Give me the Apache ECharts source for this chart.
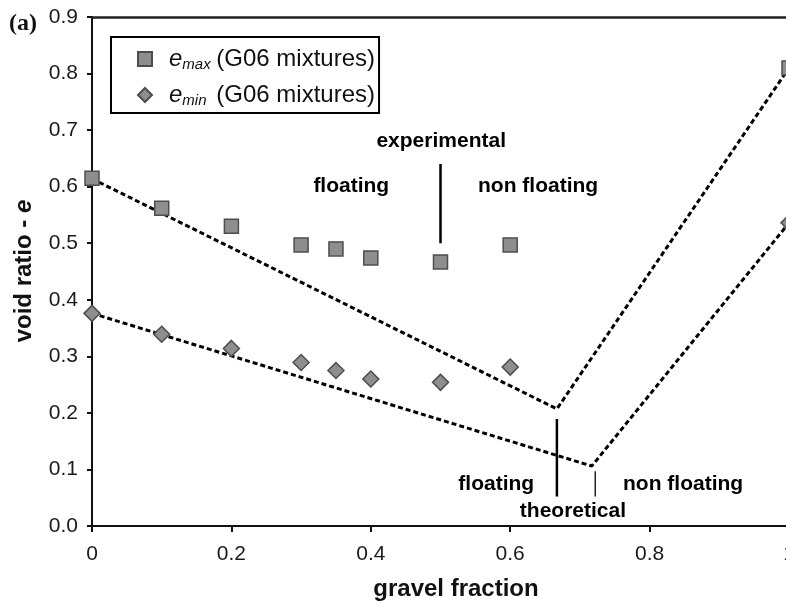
<!DOCTYPE html>
<html>
<head>
<meta charset="utf-8">
<script src="https://cdn.jsdelivr.net/npm/echarts@6/dist/echarts.min.js"></script>
<style>
  html, body { margin: 0; padding: 0; background: #fff; }
  #chart { width: 786px; height: 605px; }
</style>
</head>
<body>
<div id="chart"></div>
<script>
// Gravel fraction of each G06 mixture
const gravelFraction = [0, 0.1, 0.2, 0.3, 0.35, 0.4, 0.5, 0.6, 1.0];
// Measured maximum and minimum void ratios
const eMax = [0.615, 0.562, 0.530, 0.497, 0.490, 0.474, 0.467, 0.497, 0.810];
const eMin = [0.376, 0.339, 0.314, 0.289, 0.275, 0.260, 0.254, 0.281, 0.536];

// Theoretical (dashed) void ratio curves: [gravel fraction, e]
const eMaxTheory = [[0, 0.614], [0.667, 0.207], [1, 0.81]];
const eMinTheory = [[0, 0.376], [0.717, 0.106], [1, 0.536]];

// Boundaries between floating and non floating states
const expBoundary = [[0.5, 0.640], [0.5, 0.500]];
const theoBoundaryThick = [[0.667, 0.189], [0.667, 0.052]];
const theoBoundaryThin = [[0.722, 0.097], [0.722, 0.052]];

// Axis ticks
const xTicks = { min: 0, max: 1, interval: 0.2 };
const yTicks = { min: 0, max: 0.9, interval: 0.1 };

const FONT = 'Liberation Sans, Arial, Helvetica, sans-serif';

const chart = echarts.init(document.getElementById('chart'), null, { renderer: 'canvas' });

const markerStyle = {
  color: '#8e8e8e',
  borderColor: '#4d4d4d',
  borderWidth: 1.5,
  opacity: 1
};

const dashed = { color: '#000', width: 3, type: [5, 3] };

function annotation(text, x, y) {
  return {
    value: [x, y],
    name: text,
    label: {
      show: true,
      position: 'inside',
      formatter: '{b}',
      fontFamily: FONT,
      fontWeight: 'bold',
      fontSize: 21,
      color: '#000'
    }
  };
}

const option = {
  animation: false,
  backgroundColor: '#fff',
  grid: { left: 92, right: -3, top: 17, bottom: 79, containLabel: false, outerBoundsMode: 'none' },
  xAxis: [
    {
      type: 'value',
      min: xTicks.min, max: xTicks.max, interval: xTicks.interval,
      axisLine: { show: true, onZero: false, lineStyle: { color: '#111', width: 2 } },
      axisTick: { show: true, length: 6, lineStyle: { color: '#111', width: 2 } },
      axisLabel: { margin: 18, fontFamily: FONT, fontSize: 21, color: '#1a1a1a', hideOverlap: false },
      splitLine: { show: false }
    },
    {
      type: 'value', position: 'top',
      min: xTicks.min, max: xTicks.max,
      axisLine: { show: true, onZero: false, lineStyle: { color: '#222', width: 2.5 } },
      axisTick: { show: false }, axisLabel: { show: false }, splitLine: { show: false }
    }
  ],
  yAxis: {
    type: 'value',
    min: yTicks.min, max: yTicks.max, interval: yTicks.interval,
    axisLine: { show: true, onZero: false, lineStyle: { color: '#111', width: 2 } },
    axisTick: { show: true, length: 5, lineStyle: { color: '#111', width: 2 } },
    axisLabel: {
      margin: 14, fontFamily: FONT, fontSize: 21, color: '#1a1a1a',
      formatter: v => v.toFixed(1)
    },
    splitLine: { show: false }
  },
  legend: {
    data: ['emax', 'emin'],
    orient: 'vertical',
    left: 111, top: 37,
    padding: [9, 4, 5, 26],
    borderColor: '#000', borderWidth: 2,
    itemWidth: 14, itemHeight: 14, itemGap: 10,
    textStyle: {
      fontFamily: FONT, fontSize: 24, color: '#111', lineHeight: 26,
      rich: {
        e: { fontFamily: FONT, fontStyle: 'italic', fontSize: 24, lineHeight: 26, padding: [0, 0, 0, 12] },
        sub: { fontFamily: FONT, fontStyle: 'italic', fontSize: 15, lineHeight: 15, verticalAlign: 'bottom', width: 34 },
        t: { fontFamily: FONT, fontSize: 24, lineHeight: 26 }
      }
    },
    formatter: name => name === 'emax'
      ? '{e|e}{sub|max}{t|(G06 mixtures)}'
      : '{e|e}{sub|min}{t|(G06 mixtures)}'
  },
  series: [
    {
      name: 'eMaxTheory', type: 'line', data: eMaxTheory, symbol: 'none',
      lineStyle: dashed, z: 2, silent: true
    },
    {
      name: 'eMinTheory', type: 'line', data: eMinTheory, symbol: 'none',
      lineStyle: dashed, z: 2, silent: true
    },
    {
      name: 'emax', type: 'scatter', symbol: 'rect', symbolSize: 14,
      data: gravelFraction.map((g, i) => [g, eMax[i]]),
      itemStyle: markerStyle, z: 3
    },
    {
      name: 'emin', type: 'scatter', symbol: 'diamond', symbolSize: 16,
      data: gravelFraction.map((g, i) => [g, eMin[i]]),
      itemStyle: markerStyle, z: 3
    },
    {
      name: 'expBoundary', type: 'line', data: expBoundary, symbol: 'none',
      lineStyle: { color: '#000', width: 2.5 }, silent: true
    },
    {
      name: 'theoBoundaryThick', type: 'line', data: theoBoundaryThick, symbol: 'none',
      lineStyle: { color: '#000', width: 2.5 }, silent: true
    },
    {
      name: 'theoBoundaryThin', type: 'line', data: theoBoundaryThin, symbol: 'none',
      lineStyle: { color: '#000', width: 1.3 }, silent: true
    },
    {
      name: 'labels', type: 'scatter', symbolSize: 0, silent: true, z: 4,
      itemStyle: { opacity: 1 },
      data: [
        annotation('experimental', 0.501, 0.681),
        annotation('floating', 0.372, 0.601),
        annotation('non floating', 0.640, 0.601),
        annotation('floating', 0.580, 0.074),
        annotation('non floating', 0.848, 0.074),
        annotation('theoretical', 0.690, 0.027)
      ]
    }
  ],
  graphic: [
    {
      type: 'text', left: 9, top: 12,
      style: { text: '(a)', font: 'bold 24px "Liberation Serif", "Times New Roman", serif', fill: '#111' }
    },
    {
      type: 'text', x: 456, y: 589,
      style: {
        text: 'gravel fraction', font: 'bold 24px ' + FONT, fill: '#111',
        align: 'center', verticalAlign: 'middle'
      }
    },
    {
      type: 'text', x: 24, y: 271, rotation: Math.PI / 2,
      style: {
        text: '{b|void ratio - }{i|e}',
        align: 'center', verticalAlign: 'middle',
        rich: {
          b: { font: 'bold 24px ' + FONT, fill: '#111' },
          i: { font: 'italic bold 24px ' + FONT, fill: '#111' }
        }
      }
    }
  ]
};

chart.setOption(option);
</script>
</body>
</html>
